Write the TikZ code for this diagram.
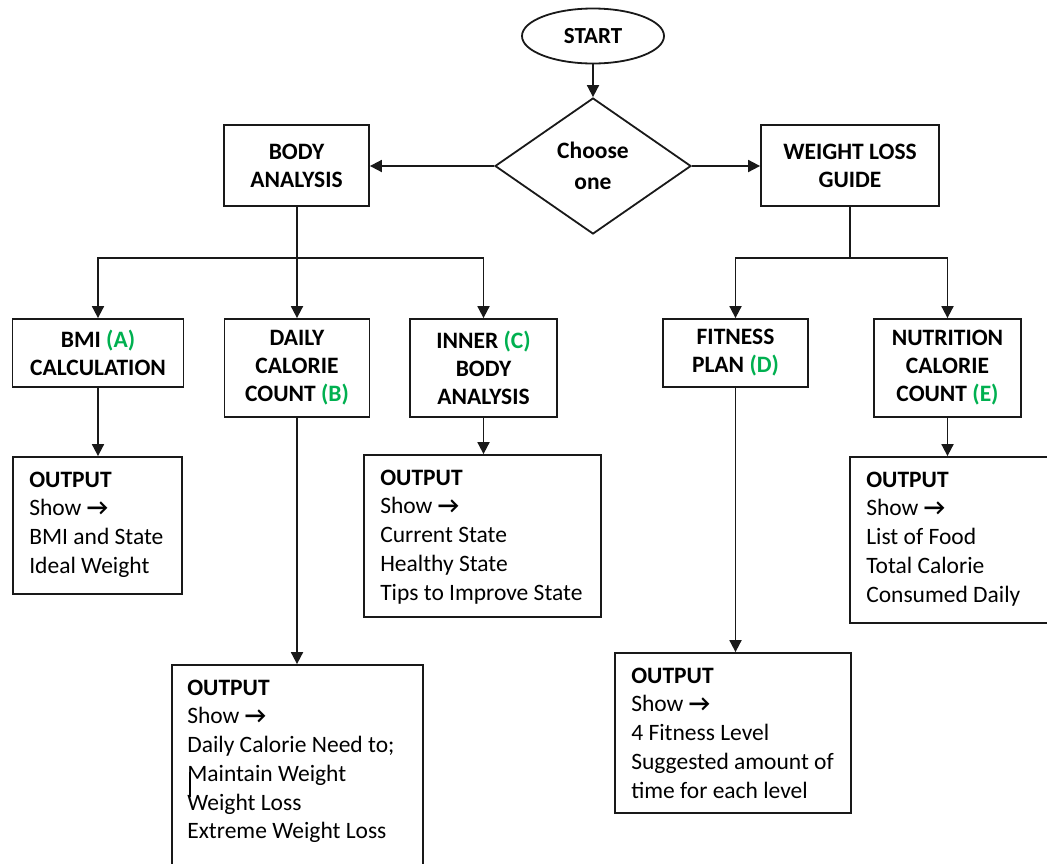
\documentclass[tikz,border=0pt]{standalone}
\usepackage{fontspec}
\setmainfont{Carlito}
\usetikzlibrary{shapes.geometric,arrows.meta}
\definecolor{tagGreen}{HTML}{00B050}
\newcommand{\tagc}[1]{\textcolor{tagGreen}{#1}}
\tikzset{
  line/.style={line width=1.8pt, draw=black!90},
  arr/.style={line, -{Triangle[length=12pt,width=12pt]}},
  hdr/.style={draw=black!90, line width=1.8pt, rectangle, inner sep=0pt, align=center,
    font=\fontsize{23.5}{28}\selectfont\bfseries},
  outbox/.style={draw=black!90, line width=1.8pt, rectangle, inner sep=0pt},
  outtext/.style={anchor=north west, inner sep=0pt, align=left,
    font=\fontsize{23.5}{28.7}\selectfont}
}
\begin{document}
\begin{tikzpicture}[x=1pt,y=-1pt]
\useasboundingbox (0,0) rectangle (1047,863);

% start and decision
\node[ellipse, draw=black!90, line width=1.8pt, minimum width=142pt, minimum height=55pt, inner sep=0pt,
  font=\fontsize{23}{28}\selectfont\bfseries] (start) at (593,36) {START};
\node[diamond, draw=black!90, line width=1.8pt, minimum width=196pt, minimum height=136pt, inner sep=0pt,
  aspect=1.44, align=center, font=\fontsize{23.5}{31}\selectfont\bfseries] (choose) at (593,166) {Choose\\one};

% main branches
\node[hdr, minimum width=145pt, minimum height=81pt] (body) at (296.5,165.5) {BODY\\ANALYSIS};
\node[hdr, minimum width=178pt, minimum height=81pt] (wlg) at (850,165.5) {WEIGHT LOSS\\GUIDE};

% body analysis modules
\node[hdr, minimum width=171pt, minimum height=68pt] (bmi) at (98,353) {BMI \tagc{(A)}\\CALCULATION};
\node[hdr, minimum width=145pt, minimum height=98pt] (daily) at (297,368) {DAILY\\CALORIE\\COUNT \tagc{(B)}};
\node[hdr, minimum width=147pt, minimum height=98pt] (inner) at (483.5,368) {INNER \tagc{(C)}\\BODY\\ANALYSIS};

% weight loss modules
\node[hdr, minimum width=145pt, minimum height=68pt] (fit) at (735.5,353) {FITNESS\\PLAN \tagc{(D)}};
\node[hdr, minimum width=147pt, minimum height=98pt] (nutr) at (947.5,368) {NUTRITION\\CALORIE\\COUNT \tagc{(E)}};

% output boxes
\node[outbox, minimum width=169pt, minimum height=137pt] (outA) at (97.5,525.5) {};
\node[outbox, minimum width=251pt, minimum height=235pt] (outB) at (297.5,782.5) {};
\node[outbox, minimum width=237pt, minimum height=162pt] (outC) at (482.5,536) {};
\node[outbox, minimum width=236pt, minimum height=160pt] (outD) at (733,733) {};
\node[outbox, minimum width=230pt, minimum height=166pt] (outE) at (965,540) {};

\node[outtext] (tA) at ([shift={(17,15.5)}]outA.north west) {\textbf{OUTPUT}\\Show \textbf{→}\\BMI and State\\Ideal Weight};
\node[outtext] (tB) at ([shift={(16,15.5)}]outB.north west) {\textbf{OUTPUT}\\Show \textbf{→}\\Daily Calorie Need to;\\Maintain Weight\\Weight Loss\\Extreme Weight Loss};
\node[outtext] (tC) at ([shift={(17,15.5)}]outC.north west) {\textbf{OUTPUT}\\Show \textbf{→}\\Current State\\Healthy State\\Tips to Improve State};
\node[outtext] (tD) at ([shift={(17,15.5)}]outD.north west) {\textbf{OUTPUT}\\Show \textbf{→}\\4 Fitness Level\\Suggested amount of\\time for each level};
\node[outtext] (tE) at ([shift={(17,15.5)}]outE.north west) {\textbf{OUTPUT}\\Show \textbf{→}\\List of Food\\Total Calorie\\Consumed Daily};

% text cursor mark
\draw[line width=1.6pt] (190,772) -- (190,797);

% connectors
\coordinate (bsplit) at (297,258);
\coordinate (wsplit) at (850,258);
\draw[arr] (start.south) -- (choose.north);
\draw[arr] (choose.west) -- (body.east |- choose.west);
\draw[arr] (choose.east) -- (wlg.west |- choose.east);

\draw[line] (body.south -| bsplit) -- (bsplit);
\draw[arr] (bsplit) -| (bmi.north);
\draw[arr] (bsplit) -| (inner.north);
\draw[arr] (bsplit) -- (daily.north);

\draw[line] (wlg.south -| wsplit) -- (wsplit);
\draw[arr] (wsplit) -| (fit.north);
\draw[arr] (wsplit) -| (nutr.north);

\draw[arr] (bmi.south) -- (bmi.south |- outA.north);
\draw[arr] (daily.south) -- (daily.south |- outB.north);
\draw[arr] (inner.south) -- (inner.south |- outC.north);
\draw[arr] (fit.south) -- (fit.south |- outD.north);
\draw[arr] (nutr.south) -- (nutr.south |- outE.north);
\end{tikzpicture}
\end{document}
